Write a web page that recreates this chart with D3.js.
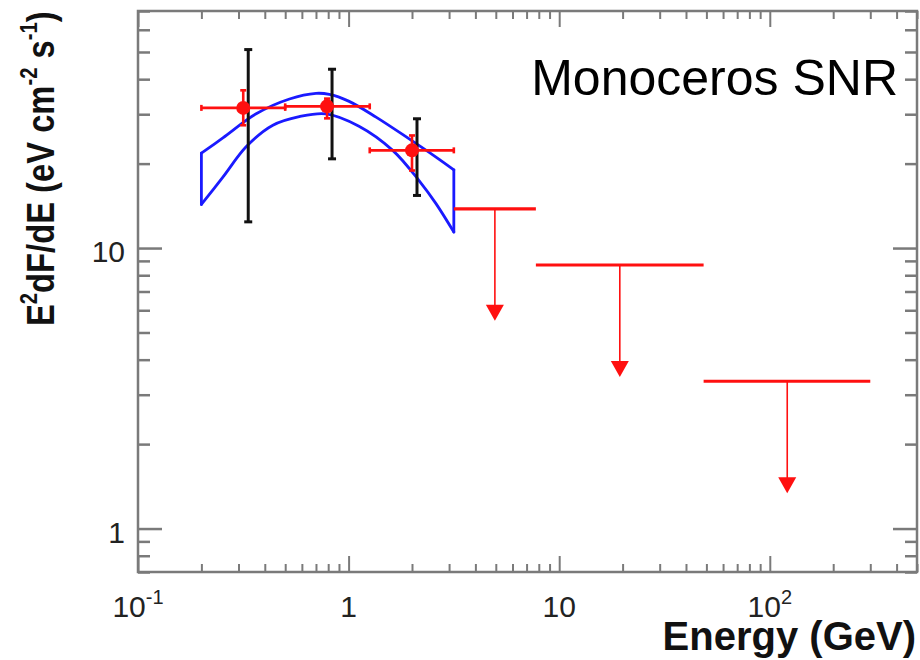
<!DOCTYPE html>
<html>
<head>
<meta charset="utf-8">
<script src="https://cdn.jsdelivr.net/npm/d3@7"></script>
<style>
  html, body { margin: 0; padding: 0; background: #ffffff; }
  svg { display: block; font-family: "Liberation Sans", Arial, Helvetica, sans-serif; }
</style>
</head>
<body>
<svg id="chart" width="920" height="660"></svg>
<script>
// ---- Spectral points (energy in GeV, E^2 dF/dE in eV cm^-2 s^-1) ----
const binLo   = [0.2, 0.5, 1.26];
const binHi   = [0.5, 1.26, 3.16];
const energy  = [0.316, 0.79, 2.0];
const flux    = [31.6, 32.0, 22.3];
const statLo  = [27.4, 29.0, 18.9];
const statHi  = [36.5, 34.1, 25.2];
const sysLo   = [12.4, 20.8, 15.4];
const sysHi   = [51.0, 43.4, 28.9];

// ---- Upper limits ----
const ulLo    = [3.16, 7.75, 48.5];
const ulHi    = [7.75, 48.5, 300];
const ulE     = [4.95, 19.4, 121];
const ulFlux  = [13.8, 8.7, 3.35];

// ---- Fitted-model butterfly (upper and lower envelope) ----
const bandUpperE = [0.2, 0.253, 0.364, 0.524, 0.70, 0.81, 1.0, 1.35, 1.94, 2.6, 3.16];
const bandUpperF = [21.8, 24.7, 30.1, 34.0, 35.6, 35.3, 33.4, 29.3, 24.5, 21.1, 19.0];
const bandLowerE = [0.2, 0.253, 0.327, 0.437, 0.583, 0.78, 1.12, 1.62, 2.16, 2.6, 3.16];
const bandLowerF = [14.3, 17.9, 23.0, 27.4, 29.4, 30.1, 27.2, 22.3, 17.4, 14.4, 11.4];

// ---- Axes ----
const xDomain = [0.1, 500];
const yDomain = [0.7, 70];
const xMajor = [0.1, 1, 10, 100];
const xMajorBase = ["10", "1", "10", "10"];
const xMajorExp  = ["-1", "", "", "2"];
const yMajor = [1, 10];
const yMajorLabels = ["1", "10"];

const titleText = "Monoceros SNR";
const xTitle = "Energy (GeV)";

(function draw() {
  const svg = d3.select("#chart");
  const pL = 138, pR = 917, pT = 11, pB = 572;

  const x = d3.scaleLog().domain(xDomain).range([pL, pR]);
  const y = d3.scaleLog().domain(yDomain).range([pB, pT]);

  const axisColor = "#7a7a7a";
  const isDecade = v => Math.abs(Math.log10(v) - Math.round(Math.log10(v))) < 1e-9;
  const xMinor = x.ticks().filter(v => !isDecade(v));
  const yMinor = y.ticks().filter(v => !isDecade(v));

  function styleAxis(g, w) {
    g.select(".domain").remove();
    g.selectAll(".tick line").attr("stroke", axisColor).attr("stroke-width", w);
    g.selectAll(".tick text").remove();
  }

  // bottom ticks (inward)
  svg.append("g").attr("transform", `translate(0,${pB})`)
    .call(d3.axisBottom(x).tickValues(xMinor).tickSize(-8).tickFormat(""))
    .call(g => styleAxis(g, 2));
  svg.append("g").attr("transform", `translate(0,${pB})`)
    .call(d3.axisBottom(x).tickValues(xMajor).tickSize(-16).tickFormat(""))
    .call(g => styleAxis(g, 2));
  // top ticks (inward)
  svg.append("g").attr("transform", `translate(0,${pT})`)
    .call(d3.axisTop(x).tickValues(xMinor).tickSize(-8).tickFormat(""))
    .call(g => styleAxis(g, 2));
  svg.append("g").attr("transform", `translate(0,${pT})`)
    .call(d3.axisTop(x).tickValues(xMajor).tickSize(-16).tickFormat(""))
    .call(g => styleAxis(g, 2));
  // left ticks (inward)
  svg.append("g").attr("transform", `translate(${pL},0)`)
    .call(d3.axisLeft(y).tickValues(yMinor).tickSize(-12).tickFormat(""))
    .call(g => styleAxis(g, 2.5));
  svg.append("g").attr("transform", `translate(${pL},0)`)
    .call(d3.axisLeft(y).tickValues(yMajor).tickSize(-24).tickFormat(""))
    .call(g => styleAxis(g, 2.5));
  // right ticks (inward)
  svg.append("g").attr("transform", `translate(${pR},0)`)
    .call(d3.axisRight(y).tickValues(yMinor).tickSize(-12).tickFormat(""))
    .call(g => styleAxis(g, 2.5));
  svg.append("g").attr("transform", `translate(${pR},0)`)
    .call(d3.axisRight(y).tickValues(yMajor).tickSize(-24).tickFormat(""))
    .call(g => styleAxis(g, 2.5));

  // frame
  svg.append("rect")
    .attr("x", pL).attr("y", pT)
    .attr("width", pR - pL).attr("height", pB - pT)
    .attr("fill", "none").attr("stroke", axisColor).attr("stroke-width", 2.5);

  // x tick labels
  xMajor.forEach((v, i) => {
    const t = svg.append("text")
      .attr("x", x(v)).attr("y", 617)
      .attr("text-anchor", "middle")
      .attr("font-size", 30).attr("fill", "#222");
    t.append("tspan").text(xMajorBase[i]);
    if (xMajorExp[i]) {
      t.append("tspan").attr("dy", -13).attr("font-size", 20).text(xMajorExp[i]);
    }
  });
  // y tick labels
  yMajor.forEach((v, i) => {
    svg.append("text")
      .attr("x", 125).attr("y", y(v) + 14)
      .attr("text-anchor", "end")
      .attr("font-size", 30).attr("fill", "#222")
      .text(yMajorLabels[i]);
  });

  // axis titles
  svg.append("text")
    .attr("x", 916).attr("y", 650)
    .attr("text-anchor", "end")
    .attr("font-size", 40).attr("font-weight", "bold").attr("fill", "#111")
    .text(xTitle);

  // y title: rotated, slightly condensed along its length
  const yt = svg.append("text")
    .attr("transform", "translate(54,326) rotate(-90) scale(0.84,1)")
    .attr("text-anchor", "start")
    .attr("font-size", 39).attr("font-weight", "bold").attr("fill", "#111");
  yt.append("tspan").text("E");
  yt.append("tspan").attr("dy", -17).attr("font-size", 24).text("2");
  yt.append("tspan").attr("dy", 17).text("dF/dE (eV cm");
  yt.append("tspan").attr("dy", -17).attr("font-size", 24).text("-2");
  yt.append("tspan").attr("dy", 17).text(" s");
  yt.append("tspan").attr("dy", -17).attr("font-size", 24).text("-1");
  yt.append("tspan").attr("dy", 17).text(")");

  // title
  svg.append("text")
    .attr("x", 898).attr("y", 95)
    .attr("text-anchor", "end")
    .attr("font-size", 50).attr("fill", "#000")
    .text(titleText);

  // ---- butterfly outline ----
  const blue = "#1a1aff";
  const line = d3.line().x(d => x(d[0])).y(d => y(d[1])).curve(d3.curveCatmullRom.alpha(0.5));
  const upperPts = bandUpperE.map((e, i) => [e, bandUpperF[i]]);
  const lowerPts = bandLowerE.map((e, i) => [e, bandLowerF[i]]);
  const band = svg.append("g").attr("fill", "none").attr("stroke", blue)
    .attr("stroke-width", 2.8).attr("stroke-linecap", "round").attr("stroke-linejoin", "round");
  band.append("path").attr("d", line(upperPts));
  band.append("path").attr("d", line(lowerPts));
  const nU = bandUpperE.length - 1, nL = bandLowerE.length - 1;
  band.append("line")
    .attr("x1", x(bandUpperE[0])).attr("x2", x(bandLowerE[0]))
    .attr("y1", y(bandUpperF[0])).attr("y2", y(bandLowerF[0]));
  band.append("line")
    .attr("x1", x(bandUpperE[nU])).attr("x2", x(bandLowerE[nL]))
    .attr("y1", y(bandUpperF[nU])).attr("y2", y(bandLowerF[nL]));

  // ---- systematic error bars (black, drawn slightly to the right of the points) ----
  const sysShift = 5;
  const sys = svg.append("g").attr("stroke", "#111").attr("stroke-width", 3);
  energy.forEach((e, i) => {
    const cx = x(e) + sysShift;
    sys.append("line").attr("x1", cx).attr("x2", cx).attr("y1", y(sysLo[i])).attr("y2", y(sysHi[i]));
    sys.append("line").attr("x1", cx - 4).attr("x2", cx + 4).attr("y1", y(sysLo[i])).attr("y2", y(sysLo[i]));
    sys.append("line").attr("x1", cx - 4).attr("x2", cx + 4).attr("y1", y(sysHi[i])).attr("y2", y(sysHi[i]));
  });

  // ---- statistical error bars and points (red) ----
  const red = "#ff1010";
  const pts = svg.append("g").attr("stroke", red).attr("stroke-width", 2.6);
  energy.forEach((e, i) => {
    const cx = x(e), cy = y(flux[i]);
    pts.append("line").attr("x1", x(binLo[i])).attr("x2", x(binHi[i])).attr("y1", cy).attr("y2", cy);
    pts.append("line").attr("x1", x(binLo[i])).attr("x2", x(binLo[i])).attr("y1", cy - 3).attr("y2", cy + 3);
    pts.append("line").attr("x1", x(binHi[i])).attr("x2", x(binHi[i])).attr("y1", cy - 3).attr("y2", cy + 3);
    pts.append("line").attr("x1", cx).attr("x2", cx).attr("y1", y(statLo[i])).attr("y2", y(statHi[i]));
    pts.append("line").attr("x1", cx - 3).attr("x2", cx + 3).attr("y1", y(statLo[i])).attr("y2", y(statLo[i]));
    pts.append("line").attr("x1", cx - 3).attr("x2", cx + 3).attr("y1", y(statHi[i])).attr("y2", y(statHi[i]));
    pts.append("circle").attr("cx", cx).attr("cy", cy).attr("r", 7).attr("fill", red).attr("stroke", "none");
  });

  // ---- upper limits (red bars with downward arrows) ----
  const arrowLen = 112;
  const ul = svg.append("g");
  ulE.forEach((e, i) => {
    const cx = x(e), cy = y(ulFlux[i]);
    ul.append("line").attr("x1", x(ulLo[i])).attr("x2", x(ulHi[i])).attr("y1", cy).attr("y2", cy)
      .attr("stroke", red).attr("stroke-width", 3.2);
    ul.append("line").attr("x1", cx).attr("x2", cx).attr("y1", cy).attr("y2", cy + arrowLen - 10)
      .attr("stroke", red).attr("stroke-width", 1.6);
    ul.append("path")
      .attr("d", `M${cx - 9},${cy + arrowLen - 16} L${cx + 9},${cy + arrowLen - 16} L${cx},${cy + arrowLen} Z`)
      .attr("fill", red);
  });
})();
</script>
</body>
</html>
